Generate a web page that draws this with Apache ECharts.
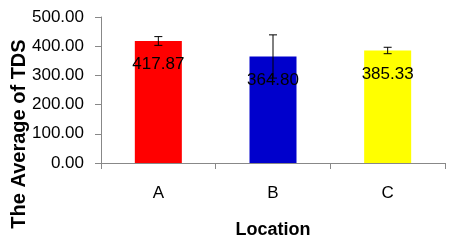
<!DOCTYPE html>
<html><head><meta charset="utf-8">
<script src="https://cdn.jsdelivr.net/npm/echarts@6/dist/echarts.min.js"></script>
<style>html,body{margin:0;padding:0;background:#fff}#c{width:451px;height:241px}</style>
</head><body><div id="c"></div>
<script>
var categories = ['A', 'B', 'C'];
var means = [417.87, 364.80, 385.33];
var errors = [15, 74, 11];
var barColors = ['#ff0000', '#0000cc', '#ffff00'];
var yTicks = [0, 100, 200, 300, 400, 500];

var font = 'Liberation Sans';
var chart = echarts.init(document.getElementById('c'));
chart.setOption({
  animation: false,
  grid: { left: 101, right: 6, top: 17, bottom: 78, containLabel: false, outerBoundsMode: 'none' },
  xAxis: {
    type: 'category', data: categories,
    name: 'Location', nameLocation: 'middle', nameGap: 58, nameMoveOverlap: false,
    nameTextStyle: { fontFamily: font, fontSize: 18, fontWeight: 'bold', color: '#000' },
    axisLine: { lineStyle: { color: '#888', width: 1 } },
    axisTick: { show: true, length: 6, lineStyle: { color: '#888' } },
    axisLabel: { fontFamily: font, fontSize: 17, color: '#000', margin: 22 }
  },
  yAxis: {
    type: 'value', min: yTicks[0], max: yTicks[yTicks.length - 1], interval: yTicks[1] - yTicks[0],
    name: 'The Average of TDS', nameLocation: 'middle', nameGap: 72, nameMoveOverlap: false,
    nameTextStyle: { fontFamily: font, fontSize: 20, fontWeight: 'bold', color: '#000', padding: [0, 88, 0, 0] },
    axisLine: { show: true, lineStyle: { color: '#888', width: 1 } },
    axisTick: { show: true, length: 6, lineStyle: { color: '#888' } },
    splitLine: { show: false },
    axisLabel: { fontFamily: font, fontSize: 17, color: '#000', margin: 17,
      formatter: function (v) { return v.toFixed(2); } }
  },
  series: [{
    type: 'bar', barWidth: '41%',
    data: means.map(function (v, i) { return { value: v, itemStyle: { color: barColors[i] } }; }),
    label: { show: true, position: 'insideTop', distance: 15, fontFamily: font, fontSize: 17, color: '#000',
      formatter: function (p) { return p.value.toFixed(2); } },
    z: 2
  }, {
    type: 'custom',
    data: means.map(function (v, i) { return [i, v - errors[i], v + errors[i]]; }),
    renderItem: function (params, api) {
      var x = api.value(0);
      var lo = api.coord([x, api.value(1)]);
      var hi = api.coord([x, api.value(2)]);
      var hw = 4;
      var st = { stroke: '#000', lineWidth: 1 };
      return { type: 'group', children: [
        { type: 'line', shape: { x1: lo[0], y1: lo[1], x2: hi[0], y2: hi[1] }, style: st },
        { type: 'line', shape: { x1: lo[0] - hw, y1: lo[1], x2: lo[0] + hw, y2: lo[1] }, style: st },
        { type: 'line', shape: { x1: hi[0] - hw, y1: hi[1], x2: hi[0] + hw, y2: hi[1] }, style: st }
      ] };
    },
    z: 3
  }]
});
</script></body></html>
